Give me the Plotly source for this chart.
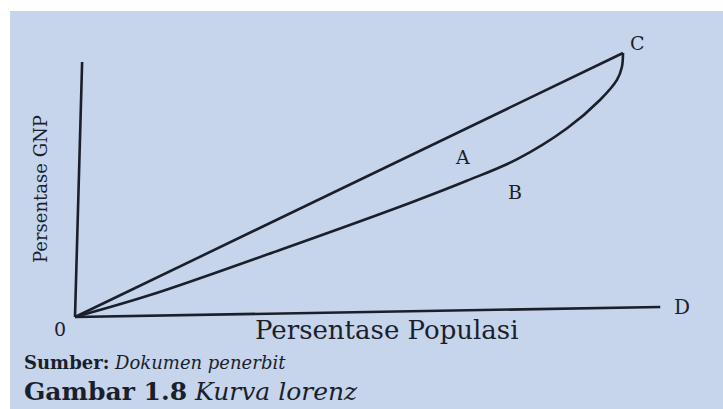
import plotly.graph_objects as go

# Lorenz curve figure (percent population vs percent GNP)
equality_x = [0, 100]
equality_y = [0, 100]

lorenz_x = [0, 13.7, 37.4, 61.1, 71.5, 80.7, 89.8, 95.8, 98.9, 99.8, 100]
lorenz_y = [0, 8.3, 25.4, 43.2, 51.6, 59.8, 71.5, 82.2, 89.8, 94.7, 100]

# axis lines as drawn on the (slightly tilted) photo
x_axis_x = [0, 106.8]
x_axis_y = [0, 3.8]
y_axis_x = [0, 1.3]
y_axis_y = [0, 96.6]

W, H = 723, 409
ink = "#1b1f2b"
paper_blue = "#c6d4ec"
serif = "DejaVu Serif"

fig = go.Figure()

for xs, ys, shape in [(x_axis_x, x_axis_y, "linear"),
                      (y_axis_x, y_axis_y, "linear"),
                      (equality_x, equality_y, "linear"),
                      (lorenz_x, lorenz_y, "spline")]:
    fig.add_trace(go.Scatter(x=xs, y=ys, mode="lines",
                             line=dict(color=ink, width=2.6, shape=shape, smoothing=1.0),
                             hoverinfo="skip", showlegend=False))

def label(text, x, y, size, **kw):
    fig.add_annotation(text=text, x=x, y=y, showarrow=False,
                       font=dict(family=serif, size=size, color=ink), **kw)

label("0", -2.7, -4.5, 19)
label("Persentase Populasi", 56.9, -4.9, 26)
label("Persentase GNP", -6.2, 48.5, 18, textangle=-90)
label("A", 70.8, 60.6, 19)
label("B", 80.3, 47.3, 19)
label("C", 102.6, 103.8, 19)
label("D", 110.8, 3.8, 20)

fig.add_annotation(text="<b>Sumber:</b> <i>Dokumen penerbit</i>",
                   xref="paper", yref="paper", x=22 / W, y=1 - 362 / H,
                   xanchor="left", yanchor="middle", showarrow=False,
                   font=dict(family=serif, size=18, color=ink))
fig.add_annotation(text="<b>Gambar 1.8</b> <i>Kurva lorenz</i>",
                   xref="paper", yref="paper", x=22 / W, y=1 - 391 / H,
                   xanchor="left", yanchor="middle", showarrow=False,
                   font=dict(family=serif, size=25, color=ink))

# photo page area (white strip at top and left)
fig.add_shape(type="rect", xref="paper", yref="paper", layer="below",
              x0=10 / W, x1=1, y0=0, y1=1 - 11 / H,
              fillcolor=paper_blue, line=dict(width=0))

px_per_x = 5.48
px_per_y = 2.64
fig.update_layout(
    width=W, height=H,
    margin=dict(l=0, r=0, t=0, b=0),
    paper_bgcolor="white", plot_bgcolor="rgba(0,0,0,0)",
    xaxis=dict(range=[-75 / px_per_x, (W - 75) / px_per_x], visible=False, fixedrange=True),
    yaxis=dict(range=[-(H - 317) / px_per_y, 317 / px_per_y], visible=False, fixedrange=True),
)

fig.write_html("out.html", config={"displayModeBar": False},
               post_script="document.body.style.margin='0';")
